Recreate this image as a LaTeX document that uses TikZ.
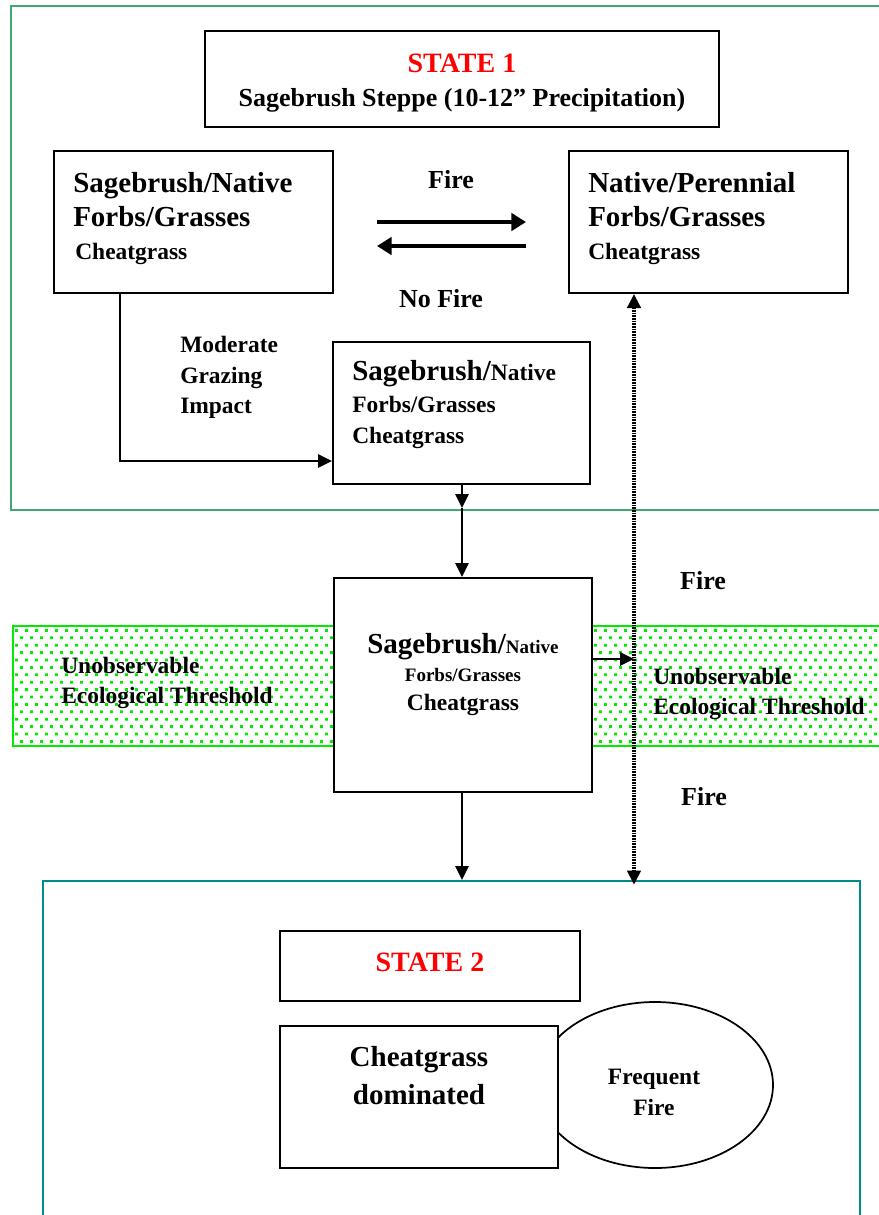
\documentclass[tikz,border=0pt]{standalone}
\usepackage{fontspec}
\setmainfont{Liberation Serif}
\usetikzlibrary{arrows.meta,shapes.geometric,fit}
\definecolor{sone}{RGB}{64,168,112}
\definecolor{stwo}{RGB}{0,139,139}
\definecolor{thr}{RGB}{0,235,0}
\newcommand\myBig{\fontsize{21.75pt}{24pt}\selectfont}
\newcommand\myMed{\fontsize{17.6pt}{20pt}\selectfont}
\newcommand\mySml{\fontsize{14.25pt}{16pt}\selectfont}
\newcommand\myLab{\fontsize{19.5pt}{22pt}\selectfont}
\newcommand\mySt{\fontsize{21pt}{24pt}\selectfont}
\tikzset{
  box/.style={draw, line width=1.5pt, fill=white, inner sep=0pt},
  frame/.style={draw, line width=1.5pt, inner sep=0pt},
  band/.style={draw=thr, line width=1.2pt, fill=white, inner sep=0pt},
  lbl/.style={inner sep=0pt, font=\bfseries},
  arr/.style={line width=1.5pt, -{Triangle[length=10.5pt,width=10pt]}},
  fatarr/.style={line width=3.4pt, -{Triangle[length=11pt,width=13pt]}},
  dotarr/.style={line width=2.4pt, dash pattern=on 1.3pt off 0.7pt,
     {Triangle[length=10.5pt,width=10pt]}-{Triangle[length=10.5pt,width=10pt]}},
}
\begin{document}
\begin{tikzpicture}[x=0.75pt,y=-0.75pt]
\useasboundingbox (0,0) rectangle (879,1215);
\clip (0,0) rectangle (879,1215);

% state frames
\node[frame, draw=sone, fit={(11,6) (900,510)}] (S1) {};
\node[frame, draw=stwo, fit={(43,881) (860,1240)}] (S2) {};

% threshold bands
\node[band, fit={(13,626) (335,746)}] (TL) {};
\node[band, fit={(592,626) (900,746)}] (TR) {};
\begin{scope}
\clip (14,627) rectangle (334,745);
\fill[thr] \foreach \j in {0,...,16} { \foreach \i in {0,...,33} {
  ({15+10*\i+5*mod(\j,2)}, {629+7.4*\j}) rectangle ++(2.8,2.8) } };
\end{scope}
\begin{scope}
\clip (593,627) rectangle (879,745);
\fill[thr] \foreach \j in {0,...,16} { \foreach \i in {0,...,30} {
  ({594+10*\i+5*mod(\j,2)}, {629+7.4*\j}) rectangle ++(2.8,2.8) } };
\end{scope}

% boxes
\node[box, fit={(205,31) (719,127)}] (T1) {};
\node[box, fit={(54,151) (333,293)}] (A) {};
\node[box, fit={(569,151) (848,293)}] (B) {};
\node[box, fit={(333,342) (590,484)}] (C) {};
\node[box, fit={(334,578) (592,792)}] (D) {};
\node[box, fit={(280,931) (580,1001)}] (T2) {};
\node[draw, ellipse, line width=1.3pt, minimum width=177pt, minimum height=124.5pt, inner sep=0pt] (F) at (655,1085) {};
\node[box, fit={(280,1026) (558,1168)}] (E) {};

% texts
\node[lbl, anchor=base, text=red] (t1a) at (462,72) {\mySt STATE 1};
\node[lbl, anchor=base] (t1b) at (462,106) {\myLab Sagebrush Steppe (10-12” Precipitation)};

\node[lbl, anchor=base west] (a1) at (73,192) {\myBig Sagebrush/Native};
\node[lbl, anchor=base west] (a2) at (73,226) {\myBig Forbs/Grasses};
\node[lbl, anchor=base west] (a3) at (75,259) {\myMed Cheatgrass};

\node[lbl, anchor=base west] (b1) at (588,192) {\myBig Native/Perennial};
\node[lbl, anchor=base west] (b2) at (588,226) {\myBig Forbs/Grasses};
\node[lbl, anchor=base west] (b3) at (588,259) {\myMed Cheatgrass};

\node[lbl, anchor=base] (fire1) at (451,188) {\myLab Fire};
\node[lbl, anchor=base] (nofire) at (441,307) {\myLab No Fire};

\node[lbl, anchor=base west] (m1) at (180,352) {\myMed Moderate};
\node[lbl, anchor=base west] (m2) at (180,383) {\myMed Grazing};
\node[lbl, anchor=base west] (m3) at (180,413) {\myMed Impact};

\node[lbl, anchor=base west] (c1) at (352,380) {\myBig Sagebrush/\myMed Native};
\node[lbl, anchor=base west] (c2) at (352,412) {\myMed Forbs/Grasses};
\node[lbl, anchor=base west] (c3) at (352,443) {\myMed Cheatgrass};

\node[lbl, anchor=base] (d1) at (463,653) {\myBig Sagebrush/\mySml Native};
\node[lbl, anchor=base] (d2) at (463,681) {\mySml Forbs/Grasses};
\node[lbl, anchor=base] (d3) at (463,710) {\myMed Cheatgrass};

\node[lbl, anchor=base west] (u1) at (61,673) {\myMed Unobservable};
\node[lbl, anchor=base west] (u2) at (61,703) {\myMed Ecological Threshold};
\node[lbl, anchor=base west] (v1) at (653,684) {\myMed Unobservable};
\node[lbl, anchor=base west] (v2) at (653,714) {\myMed Ecological Threshold};

\node[lbl, anchor=base] (fire2) at (703,589) {\myLab Fire};
\node[lbl, anchor=base] (fire3) at (704,805) {\myLab Fire};

\node[lbl, anchor=base, text=red] (t2a) at (430,971) {\mySt STATE 2};
\node[lbl, anchor=base] (e1) at (419,1066) {\myBig Cheatgrass};
\node[lbl, anchor=base] (e2) at (419,1104) {\myBig dominated};
\node[lbl, anchor=base] (f1) at (654,1084) {\myMed Frequent};
\node[lbl, anchor=base] (f2) at (654,1115) {\myMed Fire};

% connectors
\coordinate (fr1) at (377,222);
\coordinate (fr2) at (526,222);
\coordinate (fl1) at (526,246);
\coordinate (fl2) at (377,246);
\draw[fatarr] (fr1) -- (fr2);
\draw[fatarr] (fl1) -- (fl2);

\draw[arr] (A.south -| 120,0) |- (C.west |- 0,461);
\coordinate (mid) at (462,508);
\draw[arr] (C.south -| mid) -- (mid);
\draw[arr] (mid) -- (D.north -| mid);
\draw[arr] (D.south -| mid) -- (S2.north -| mid);
\coordinate (dx) at (634,0);
\draw[dotarr] (B.south -| dx) -- ([yshift=-3.5pt]S2.north -| dx);
\draw[arr] (D.east |- 0,659) -- (dx |- 0,659);
\end{tikzpicture}
\end{document}
